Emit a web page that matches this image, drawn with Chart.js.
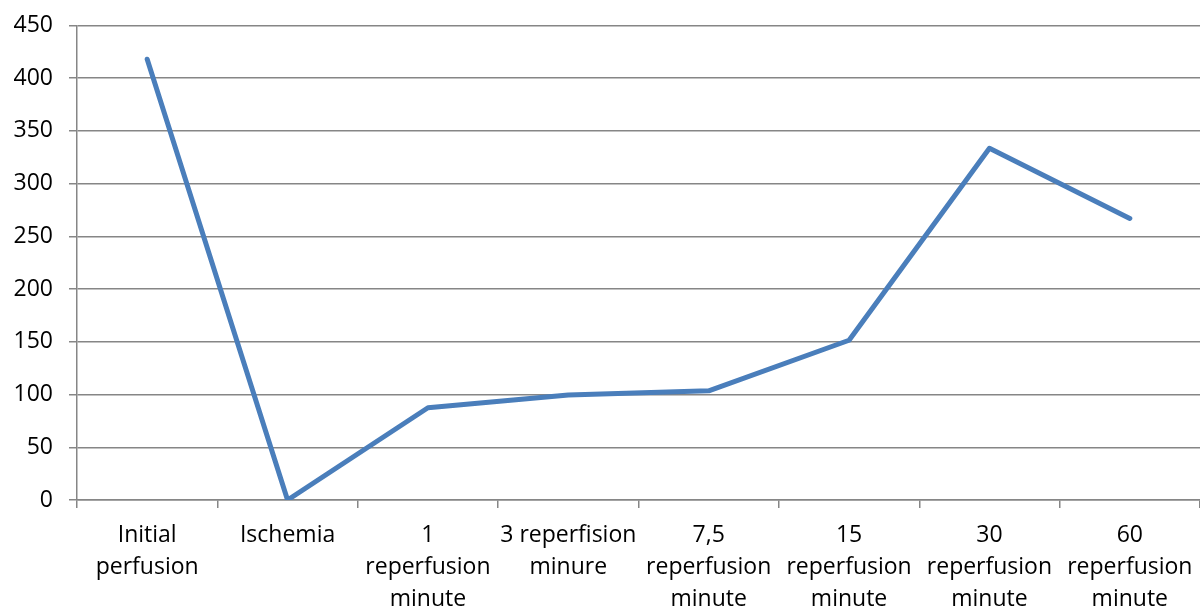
<!DOCTYPE html>
<html>
<head>
<meta charset="utf-8">
<script src="https://cdn.jsdelivr.net/npm/chart.js@4"></script>
<style>
html,body{margin:0;padding:0;background:#fff;}
#wrap{width:1200px;height:610px;position:relative;}
</style>
</head>
<body>
<div id="wrap"><canvas id="c"></canvas></div>
<script>
const categories = [
  ["Initial", "perfusion"],
  ["Ischemia"],
  ["1", "reperfusion", "minute"],
  ["3 reperfision", "minure"],
  ["7,5", "reperfusion", "minute"],
  ["15", "reperfusion", "minute"],
  ["30", "reperfusion", "minute"],
  ["60", "reperfusion", "minute"]
];
const values = [418, 0, 87.5, 99.5, 103.5, 151.5, 333.5, 267];
const yMin = 0, yMax = 450, yStep = 50;

const FONT = "'Open Sans', sans-serif";

new Chart(document.getElementById('c'), {
  type: 'line',
  data: {
    labels: categories,
    datasets: [{
      data: values,
      borderColor: '#4a7ebb',
      borderWidth: 5,
      pointRadius: 0,
      tension: 0,
      borderCapStyle: 'round',
      borderJoinStyle: 'round',
      fill: false
    }]
  },
  options: {
    responsive: true,
    maintainAspectRatio: false,
    animation: false,
    devicePixelRatio: 1,
    layout: { padding: { top: 25.5, right: 0, left: 0, bottom: 0 } },
    plugins: { legend: { display: false }, tooltip: { enabled: false } },
    scales: {
      x: {
        offset: true,
        grid: {
          offset: true,
          drawOnChartArea: false,
          drawTicks: true,
          tickLength: 8,
          color: '#868686',
          lineWidth: 1.5
        },
        border: { color: '#868686', width: 1.5 },
        ticks: {
          maxRotation: 0,
          minRotation: 0,
          autoSkip: false,
          padding: 11,
          color: '#000',
          font: { family: FONT, size: 23, lineHeight: 1.4 }
        },
        afterFit: (s) => { s.height = 110; s.paddingLeft = 0; s.paddingRight = 0; }
      },
      y: {
        min: yMin, max: yMax,
        ticks: {
          stepSize: yStep,
          padding: 16,
          color: '#000',
          font: { family: FONT, size: 23 }
        },
        grid: {
          color: '#868686',
          lineWidth: 1.5,
          drawTicks: true,
          tickLength: 8
        },
        border: { color: '#868686', width: 1.5 },
        afterFit: (s) => { s.width = 77; s.paddingTop = 0; s.paddingBottom = 0; }
      }
    }
  }
});
</script>
</body>
</html>
